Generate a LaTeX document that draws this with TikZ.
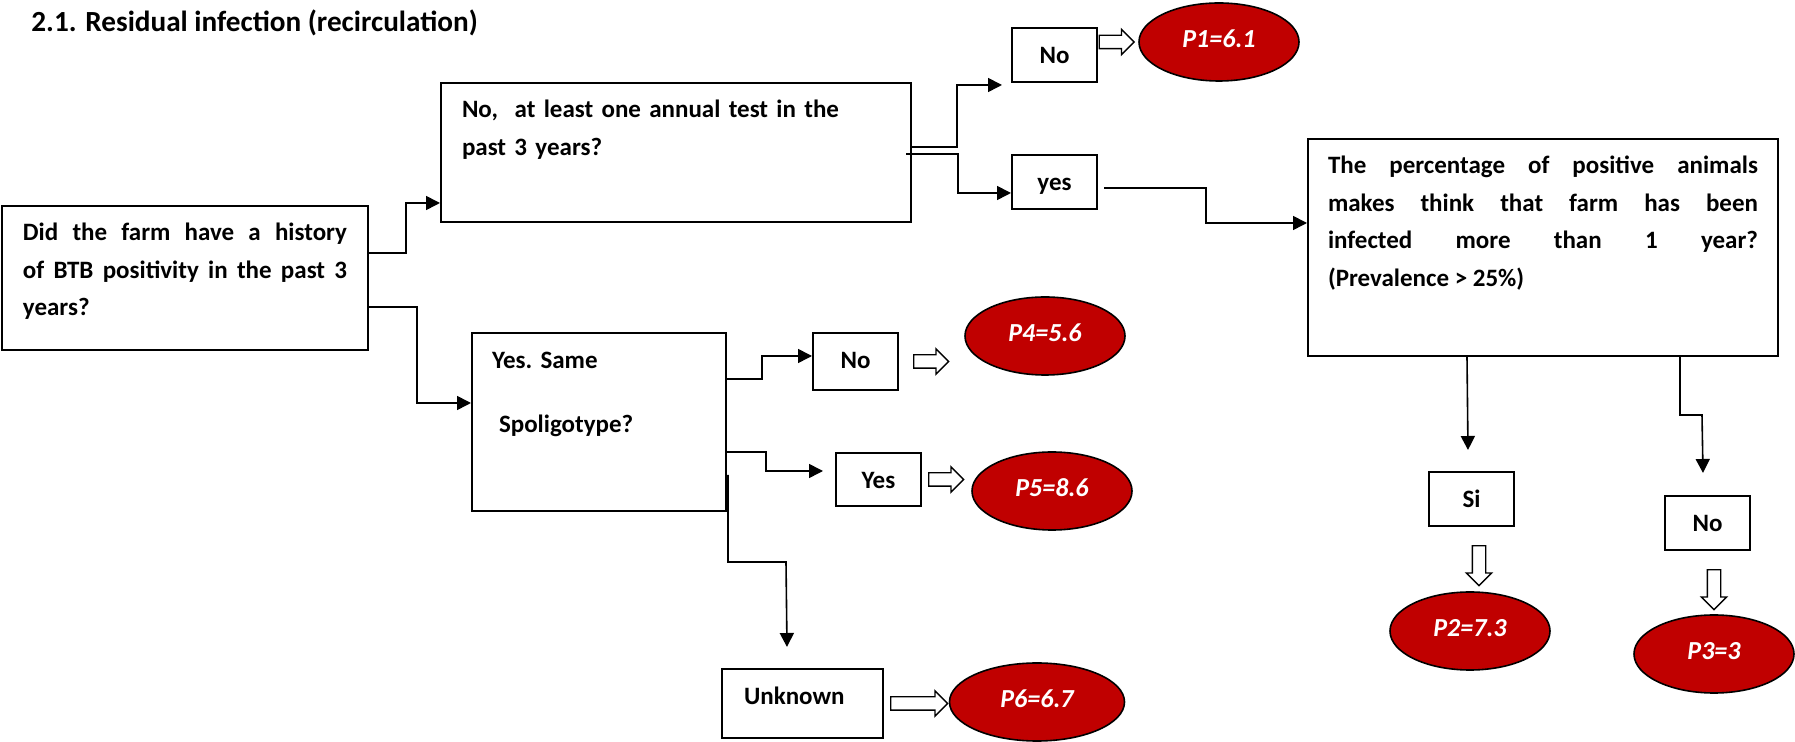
\documentclass[tikz,border=0pt]{standalone}
\usepackage{fontspec}
\setmainfont{Carlito}
\usetikzlibrary{positioning, shapes.geometric, shapes.arrows, arrows.meta}
\definecolor{resred}{RGB}{192,0,0}

\begin{document}
\begin{tikzpicture}[x=0.5pt, y=-0.5pt,
    font=\fontsize{12.5}{18.75}\selectfont\bfseries\frenchspacing,
    box/.style={draw, line width=1pt, anchor=north west, inner ysep=0pt, text height=17.5pt},
    choice/.style={box, inner xsep=0pt, text width=42.5pt, align=center, text height=18pt, text depth=9pt},
    result/.style={ellipse, draw, line width=0.8pt, fill=resred, text=white,
        font=\fontsize{13}{15}\selectfont\bfseries\itshape, text depth=3pt,
        minimum width=80pt, minimum height=39pt, inner sep=0pt},
    fat/.style={single arrow, draw, line width=0.7pt, fill=white, inner xsep=0pt, inner ysep=3pt,
        single arrow head extend=3pt, minimum height=17.5pt},
    conn/.style={line width=0.8pt, -{Triangle[length=7pt,width=7pt]}}]
    \useasboundingbox (0,0) rectangle (1795,742);
    \node[anchor=base west, inner sep=0pt, font=\fontsize{14.6}{18}\selectfont\bfseries] (title) at (31,32)
        {2.1. Residual infection (recirculation)};

    \node[box, inner xsep=10.5pt, text width=162pt, align=justify, text depth=54.5pt] (farm) at (1,205)
        {Did the farm have a history\linebreak of BTB positivity in the past 3\linebreak years?};
    \node[box, inner xsep=10.5pt, text width=214pt, align=left, text depth=52pt] (test) at (440,82)
        {No,\ \ at least one annual test in the\\past 3 years?};
    \node[box, inner xsep=10pt, text width=107pt, align=left, text height=18pt, text depth=71pt] (spoligo) at (471,332)
        {Yes. Same\\[13.25pt]\hspace*{3.5pt}Spoligotype?};
    \node[box, inner xsep=10pt, text width=215pt, align=justify, text depth=91pt] (prev) at (1307,138)
        {The percentage of positive animals\linebreak makes think that farm has been\linebreak infected more than 1 year?\linebreak (Prevalence > 25\%)};

    \node[choice] (no1) at (1011,27) {No};
    \node[choice] (yes1) at (1011,154) {yes};
    \node[choice, text depth=10.5pt] (no4) at (812,332) {No};
    \node[choice, text depth=8.5pt] (yes5) at (835,452) {Yes};
    \node[choice, inner xsep=11pt, text width=58.5pt, align=left, text depth=16.5pt] (unk) at (721,668) {Unknown};
    \node[choice] (si) at (1428,471) {Si};
    \node[choice] (no3) at (1664,495) {No};

    \node[result] (p1) at (1219,42) {P1=6.1};
    \node[result] (p4) at (1045,336) {P4=5.6};
    \node[result] (p5) at (1052,491) {P5=8.6};
    \node[result, minimum width=87.5pt] (p6) at (1037,702) {P6=6.7};
    \node[result] (p2) at (1470,631) {P2=7.3};
    \node[result] (p3) at (1714,654) {P3=3};

    \node[fat, left=1.5pt of p1] (f1) {};
    \node[fat, right=7pt of no4] (f4) {};
    \node[fat, right=3pt of yes5] (f5) {};
    \node[fat, right=3pt of unk, minimum height=28.5pt] (f6) {};
    \node[fat, rotate=-90, anchor=west, minimum height=20pt] (f2) at ([shift={(7.5,18)}]si.south) {};
    \node[fat, rotate=-90, anchor=west, minimum height=20pt] (f3) at ([shift={(6.5,18)}]no3.south) {};

    \draw[conn] (farm.east |- 0,253) -- (406,253) |- (test.west |- 0,203);
    \draw[conn] (farm.east |- 0,307) -- (417,307) |- (spoligo.west |- 0,403);
    \draw[conn] (test.east |- 0,147) -- (957,147) |- ([shift={(-9,2)}]no1.south west);
    \draw[conn] ([xshift=-3pt]test.east |- 0,154) -- (958,154) |- (yes1.west |- 0,193);
    \draw[conn] ([xshift=3pt]yes1.east |- 0,188) -- (1206,188) |- (prev.west |- 0,223);
    \draw[conn] (spoligo.east |- 0,379) -- (762,379) |- (no4.west |- 0,356);
    \draw[conn] (spoligo.east |- 0,452) -- (766,452) |- ([xshift=-6pt]yes5.west |- 0,471);
    \draw[conn] ([xshift=0.5pt]spoligo.east |- 0,475) |- (786,562) -- ([shift={(-15.5,-21)}]unk.north);
    \draw[conn] (prev.south -| 1467,0) -- ([shift={(-3.5,-21)}]si.north);
    \draw[conn] (prev.south -| 1680,0) |- (1702,415) -- ([shift={(-4.5,-22)}]no3.north);
\end{tikzpicture}
\end{document}
